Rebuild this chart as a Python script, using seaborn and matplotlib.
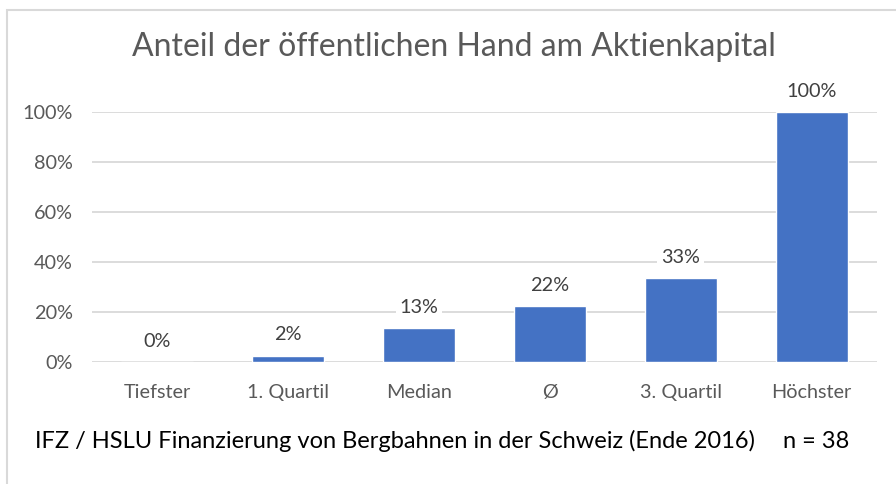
import pandas as pd
import matplotlib.pyplot as plt
import seaborn as sns
from matplotlib.patches import Rectangle

# Daten
kategorien = ["Tiefster", "1. Quartil", "Median", "Ø", "3. Quartil", "Höchster"]
anteile = [0.0, 0.025, 0.135, 0.224, 0.335, 1.0]
beschriftungen = ["0%", "2%", "13%", "22%", "33%", "100%"]
y_ticks = [0.0, 0.2, 0.4, 0.6, 0.8, 1.0]
y_tick_labels = ["0%", "20%", "40%", "60%", "80%", "100%"]

titel = "Anteil der öffentlichen Hand am Aktienkapital"
quelle = "IFZ / HSLU Finanzierung von Bergbahnen in der Schweiz (Ende 2016)"
stichprobe = "n = 38"

sns.set_style("white")
plt.rcParams["font.family"] = ["Lato", "DejaVu Sans"]

grau = "#595959"
blau = "#4472C4"

df = pd.DataFrame({"Kategorie": kategorien, "Anteil": anteile})

fig = plt.figure(figsize=(8.96, 4.84), dpi=100)
ax = fig.add_axes([92 / 896, 1 - 362 / 484, 785 / 896, 250 / 484])

sns.barplot(data=df, x="Kategorie", y="Anteil", color=blau, width=0.55,
            saturation=1, ax=ax, zorder=3)

ax.set_ylim(0, 1)
ax.set_yticks(y_ticks)
ax.set_yticklabels(y_tick_labels)
ax.set_xlabel("")
ax.set_ylabel("")
ax.yaxis.grid(True, color="#D9D9D9", linewidth=1.3, zorder=0)
ax.set_axisbelow(True)
for s in ax.spines.values():
    s.set_visible(False)
ax.tick_params(axis="both", length=0, colors=grau, labelsize=14.3)
ax.tick_params(axis="x", pad=16)
ax.tick_params(axis="y", pad=14)

# Wertbeschriftungen mit weissem Hintergrund
for i, (wert, text) in enumerate(zip(anteile, beschriftungen)):
    ax.annotate(text, (i, wert), xytext=(0, 15), textcoords="offset points",
                ha="center", va="center", fontsize=14.3, color="#404040",
                bbox=dict(boxstyle="square,pad=0.2", fc="white", ec="none"),
                zorder=5)

fig.text(454 / 896, 1 - 47 / 484, titel, ha="center", va="center",
         fontsize=23, color=grau)
fig.text(35 / 896, 1 - 441 / 484, quelle, ha="left", va="center",
         fontsize=17, color="black")
fig.text(783 / 896, 1 - 441 / 484, stichprobe, ha="left", va="center",
         fontsize=17, color="black")

# Rahmen (nur links und oben sichtbar)
fig.patches.append(Rectangle((7 / 896, -0.1), 1.2, 1 - 10 / 484 + 0.1,
                             transform=fig.transFigure, fill=False,
                             edgecolor="#D9D9D9", linewidth=1.5))

fig.savefig("out.png", dpi=100)
